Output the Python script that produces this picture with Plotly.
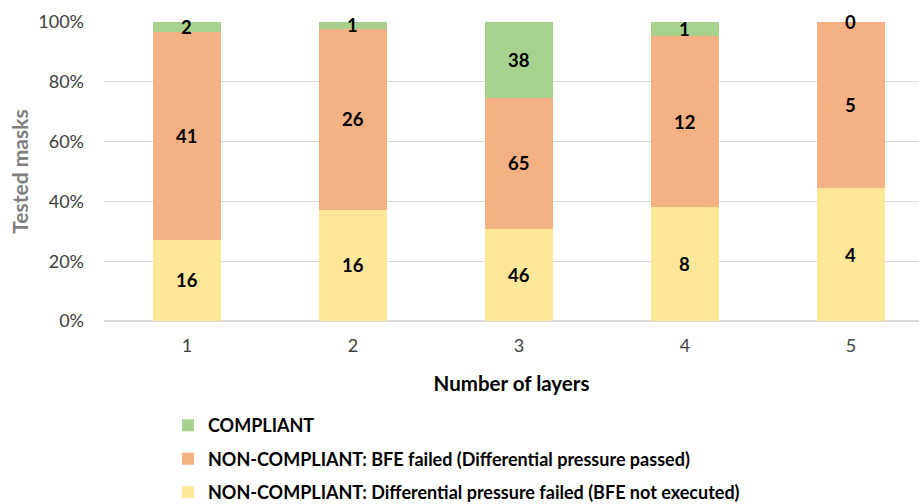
import plotly.graph_objects as go

layers = ["1", "2", "3", "4", "5"]
diff_failed = [16, 16, 46, 8, 4]
bfe_failed = [41, 26, 65, 12, 5]
compliant = [2, 1, 38, 1, 0]

names = [
    "NON-COMPLIANT: Differential pressure failed (BFE not executed)",
    "NON-COMPLIANT: BFE failed (Differential pressure passed)",
    "COMPLIANT",
]
colors = ["#FFE699", "#F4B183", "#A9D18E"]
series = [diff_failed, bfe_failed, compliant]
ranks = [3, 2, 1]

FONT = "Lato"

fig = go.Figure()
for i, (nm, col, vals) in enumerate(zip(names, colors, series)):
    fig.add_trace(go.Bar(
        x=layers, y=vals, name=nm, marker_color=col, marker_line_width=0,
        width=0.41, legendgroup=f"g{i}", legendrank=ranks[i],
    ))

# data labels at segment midpoints (percent scale)
annotations = []
totals = [sum(v) for v in zip(*series)]
for j, cat in enumerate(layers):
    cum = 0.0
    for vals in series:
        pct = vals[j] / totals[j] * 100
        mid = cum + pct / 2
        annotations.append(dict(
            x=j, y=mid, xref="x", yref="y", text=f"<b>{vals[j]}</b>",
            showarrow=False, font=dict(family=FONT, size=18.5, color="#000000"),
        ))
        cum += pct

fig.update_layout(
    width=919, height=504,
    barmode="stack", barnorm="percent",
    plot_bgcolor="white", paper_bgcolor="white",
    margin=dict(l=104, r=0, t=22, b=183, autoexpand=False),
    font=dict(family=FONT, size=18, color="#595959"),
    annotations=annotations,
    showlegend=True,
    legend=dict(
        orientation="v", traceorder="grouped", x=0.0785, xanchor="left",
        y=-0.288, yanchor="top", tracegroupgap=7,
        font=dict(family=FONT, size=18, color="#000000", weight="bold"),
        itemwidth=30,
    ),
    xaxis=dict(
        type="category", range=[-0.5, 4.41], automargin=False,
        title=dict(text="<b>Number of layers</b>", font=dict(size=20.5, color="#000000"), standoff=21),
        tickfont=dict(size=18, color="#404040"), showgrid=False,
        ticks="", showline=False, ticklabelstandoff=12,
    ),
    yaxis=dict(
        range=[0, 100], ticksuffix="%", dtick=20, automargin=False,
        title=dict(text="<b>Tested masks</b>", font=dict(size=21, color="#7F7F7F"), standoff=3),
        tickfont=dict(size=18, color="#404040"), ticklabelstandoff=19,
        gridcolor="#D9D9D9", gridwidth=1, zeroline=True, zerolinecolor="#D9D9D9",
        showline=False,
    ),
)

fig.write_html("out.html", config={"displayModeBar": False},
               post_script="document.body.style.margin='0';")
